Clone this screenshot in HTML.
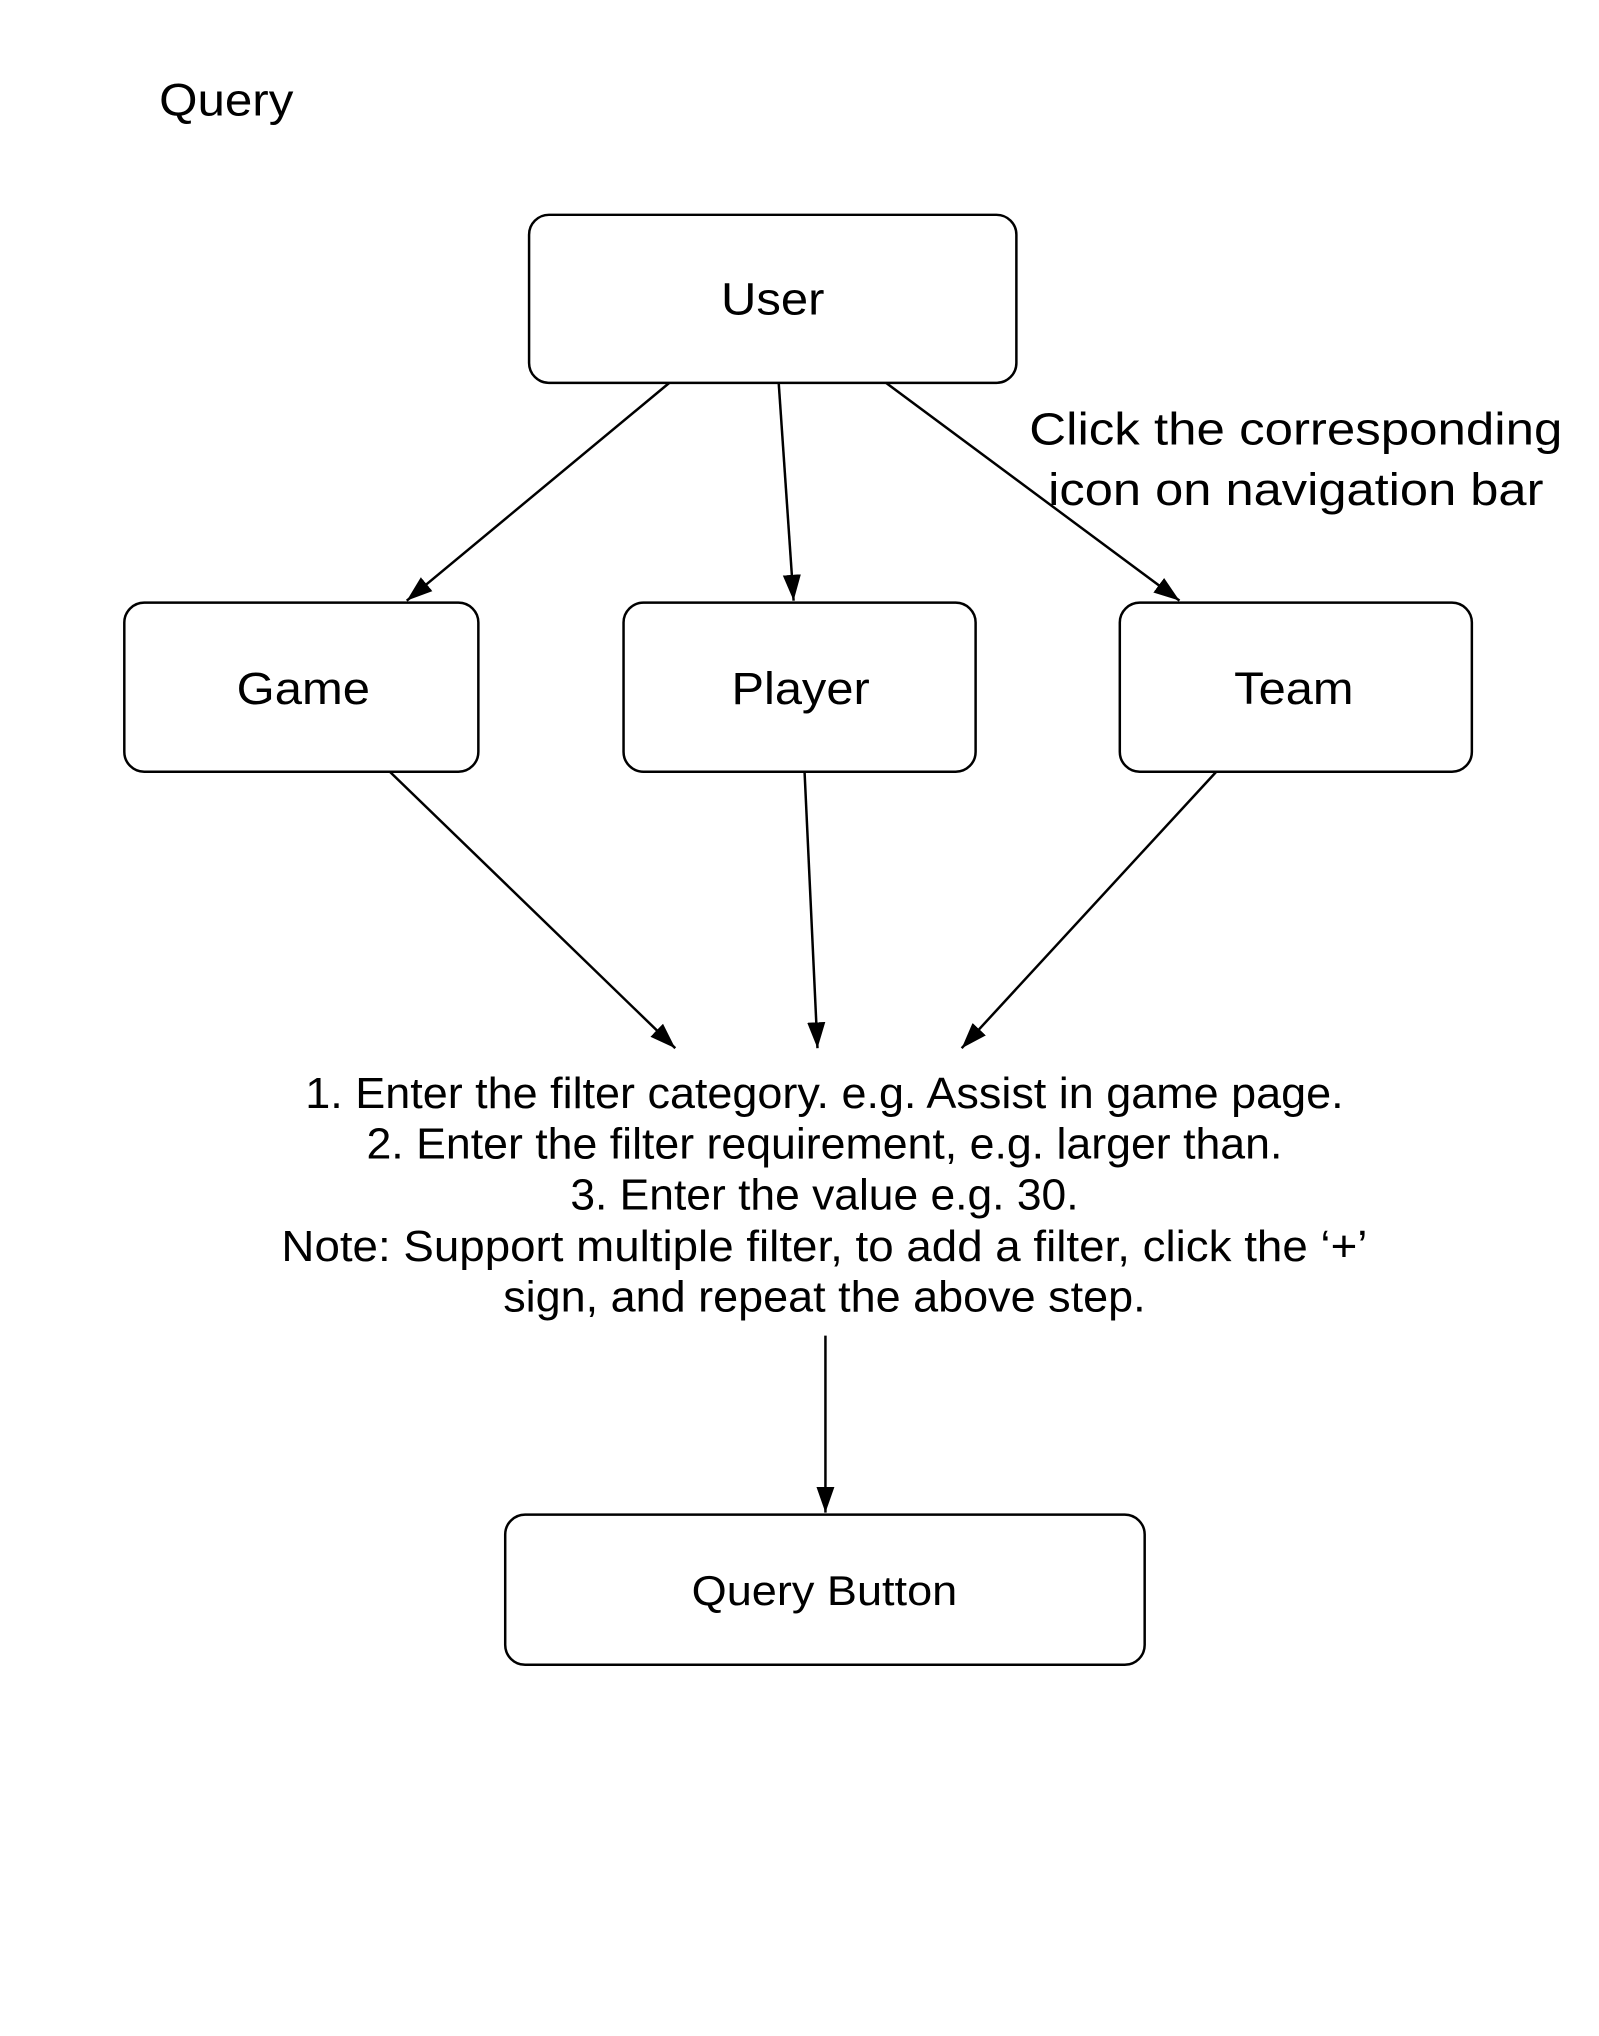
<!DOCTYPE html>
<html><head><meta charset="utf-8"><style>
html,body{margin:0;padding:0;background:#fff;}
svg{display:block;}
text{font-family:"Liberation Sans",Arial,sans-serif;fill:#000;}
</style></head><body>
<svg width="1599" height="2036" viewBox="0 0 1599 2036" xmlns="http://www.w3.org/2000/svg">
<defs>
<marker id="b" viewBox="0 0 10 10" refX="10" refY="5" markerWidth="26" markerHeight="26" orient="auto" markerUnits="userSpaceOnUse"><path d="M0,1.5 L10,5 L0,8.5 z" fill="#000"/></marker></defs>
<g transform="scale(0.9945)">
<text x="160" y="116" font-size="46" textLength="135" lengthAdjust="spacingAndGlyphs">Query</text>
<g fill="none" stroke="#000" stroke-width="2.5">
<rect x="532" y="216" width="490" height="169" rx="20"/>
<rect x="125" y="606" width="356" height="170" rx="20"/>
<rect x="627" y="606" width="354" height="170" rx="20"/>
<rect x="1126" y="606" width="354" height="170" rx="20"/>
<rect x="508" y="1523" width="643" height="151" rx="20"/>
<line x1="673" y1="385" x2="409" y2="604" marker-end="url(#b)"/>
<line x1="783" y1="385" x2="798" y2="604" marker-end="url(#b)"/>
<line x1="891" y1="385" x2="1186" y2="604" marker-end="url(#b)"/>
<line x1="392" y1="776" x2="679" y2="1054" marker-end="url(#b)"/>
<line x1="809" y1="776" x2="822" y2="1054" marker-end="url(#b)"/>
<line x1="1223" y1="776" x2="967" y2="1054" marker-end="url(#b)"/>
<line x1="830" y1="1343" x2="830" y2="1521" marker-end="url(#b)"/>
</g>
<g font-size="46" text-anchor="middle">
<text x="777" y="316" textLength="104" lengthAdjust="spacingAndGlyphs">User</text>
<text x="305" y="708" textLength="134" lengthAdjust="spacingAndGlyphs">Game</text>
<text x="805" y="708" textLength="139" lengthAdjust="spacingAndGlyphs">Player</text>
<text x="1301" y="708" textLength="120" lengthAdjust="spacingAndGlyphs">Team</text>
<text x="1303" y="447" textLength="536" lengthAdjust="spacingAndGlyphs">Click the corresponding</text>
<text x="1303" y="508" textLength="498" lengthAdjust="spacingAndGlyphs">icon on navigation bar</text>
</g>
<g font-size="44" text-anchor="middle">
<text x="829" y="1114" textLength="1044" lengthAdjust="spacingAndGlyphs">1. Enter the filter category. e.g. Assist in game page.</text>
<text x="829" y="1165" textLength="921" lengthAdjust="spacingAndGlyphs">2. Enter the filter requirement, e.g. larger than.</text>
<text x="829" y="1216" textLength="511" lengthAdjust="spacingAndGlyphs">3. Enter the value e.g. 30.</text>
<text x="829" y="1268" textLength="1092" lengthAdjust="spacingAndGlyphs">Note: Support multiple filter, to add a filter, click the ‘+’</text>
<text x="829" y="1319" textLength="646" lengthAdjust="spacingAndGlyphs">sign, and repeat the above step.</text>
<text x="829" y="1614" font-size="42" textLength="267" lengthAdjust="spacingAndGlyphs">Query Button</text>
</g>
</g>
</svg>
</body></html>
